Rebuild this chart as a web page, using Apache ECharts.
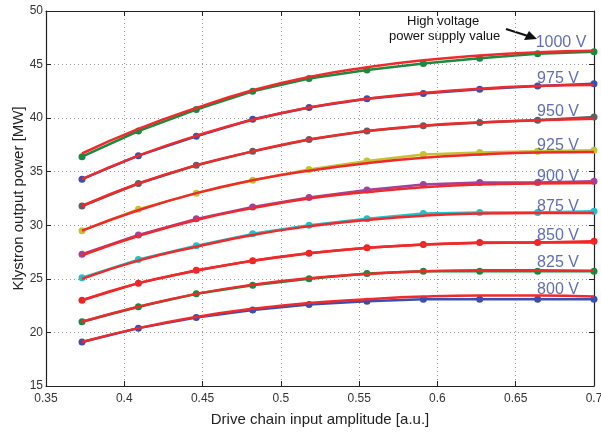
<!DOCTYPE html>
<html>
<head>
<meta charset="utf-8">
<script src="https://cdn.jsdelivr.net/npm/echarts@6/dist/echarts.min.js"></script>
<style>
html, body { margin: 0; padding: 0; background: #fff; }
#chart { width: 601px; height: 432px; }
</style>
</head>
<body>
<div id="chart"></div>
<script>
// drive amplitude sample points
var xs = [0.373, 0.409, 0.446, 0.482, 0.518, 0.555, 0.591, 0.627, 0.664, 0.7];
var voltages = ['800 V', '825 V', '850 V', '875 V', '900 V', '925 V', '950 V', '975 V', '1000 V'];

// measured points
var m800  = [19.1, 20.4, 21.4, 22.1, 22.6, 22.9, 23.1, 23.1, 23.1, 23.1];
var m825  = [21.0, 22.4, 23.6, 24.4, 25.0, 25.5, 25.7, 25.7, 25.7, 25.7];
var m850  = [23.0, 24.6, 25.8, 26.7, 27.4, 27.9, 28.2, 28.4, 28.4, 28.5];
var m875  = [25.1, 26.8, 28.1, 29.2, 30.0, 30.6, 31.1, 31.2, 31.2, 31.3];
var m900  = [27.3, 29.1, 30.6, 31.7, 32.6, 33.3, 33.8, 34.0, 34.0, 34.1];
var m925  = [29.5, 31.5, 33.0, 34.2, 35.2, 36.0, 36.6, 36.8, 36.9, 37.0];
var m950  = [31.8, 33.9, 35.6, 36.9, 38.0, 38.8, 39.3, 39.6, 39.8, 40.1];
var m975  = [34.3, 36.5, 38.3, 39.9, 41.0, 41.8, 42.3, 42.7, 43.0, 43.2];
var m1000 = [36.4, 38.8, 40.8, 42.5, 43.7, 44.5, 45.1, 45.6, 46.0, 46.2];

// fitted curves (red)
var f800  = [19.1, 20.4, 21.45, 22.2, 22.75, 23.1, 23.35, 23.45, 23.45, 23.35];
var f825  = [21.0, 22.4, 23.6, 24.45, 25.05, 25.45, 25.7, 25.8, 25.8, 25.75];
var f850  = [23.0, 24.6, 25.75, 26.7, 27.4, 27.9, 28.2, 28.35, 28.4, 28.4];
var f875  = [25.0, 26.7, 28.0, 29.1, 29.9, 30.5, 30.9, 31.1, 31.15, 31.15];
var f900  = [27.2, 29.0, 30.5, 31.6, 32.5, 33.1, 33.55, 33.8, 33.9, 33.95];
var f925  = [29.5, 31.4, 33.0, 34.2, 35.1, 35.8, 36.3, 36.6, 36.8, 36.85];
var f950  = [31.8, 33.9, 35.6, 36.9, 38.0, 38.8, 39.3, 39.6, 39.8, 39.95];
var f975  = [34.3, 36.5, 38.35, 39.85, 41.0, 41.8, 42.35, 42.75, 43.0, 43.1];
var f1000 = [36.7, 39.0, 40.95, 42.6, 43.85, 44.75, 45.4, 45.85, 46.15, 46.3];

var measured = [m800, m825, m850, m875, m900, m925, m950, m975, m1000];
var fits = [f800, f825, f850, f875, f900, f925, f950, f975, f1000];
var colors = ['#3a4fb0', '#1b8a3e', '#ee2222', '#22c0c8', '#a0429e', '#c4c232', '#606060', '#3a4fb0', '#1b8a3e'];
var labelOffsets = [[-36, -10], [-36, -9], [-36, -6], [-36, -5], [-36, -5], [-36, -5], [-36, -5], [-36, -5], [-33, -9]];

var font = '"Liberation Sans", Arial, sans-serif';

function pairs(ys) {
    return ys.map(function (y, i) { return [xs[i], y]; });
}

var series = [];
measured.forEach(function (ys, i) {
    series.push({
        name: voltages[i],
        type: 'line',
        data: pairs(ys),
        symbol: 'circle',
        symbolSize: 7,
        itemStyle: { color: colors[i] },
        lineStyle: { color: colors[i], width: 2.5 },
        z: 2,
        silent: true
    });
});
fits.forEach(function (ys, i) {
    series.push({
        name: voltages[i] + ' fit',
        type: 'line',
        data: pairs(ys),
        smooth: true,
        showSymbol: false,
        lineStyle: { color: '#f02a2a', width: 2.5 },
        z: 3,
        silent: true
    });
});
// voltage labels at the right end of each curve
series.push({
    type: 'scatter',
    symbolSize: 0,
    z: 5,
    silent: true,
    data: measured.map(function (ys, i) {
        return {
            value: [xs[xs.length - 1], ys[ys.length - 1]],
            label: {
                show: true,
                formatter: voltages[i],
                position: 'inside',
                offset: labelOffsets[i],
                color: '#3a4aa4',
                fontSize: 16,
                fontFamily: font
            }
        };
    })
});

var option = {
    backgroundColor: '#fff',
    animation: false,
    grid: { left: 46, right: 7, top: 11, bottom: 46, outerBoundsMode: 'none', containLabel: false },
    xAxis: [{
        type: 'value',
        min: 0.35, max: 0.7, interval: 0.05,
        name: 'Drive chain input amplitude [a.u.]',
        nameLocation: 'middle', nameGap: 26, nameMoveOverlap: false,
        nameTextStyle: { color: '#222', fontSize: 15, fontFamily: font },
        axisLine: { show: true, lineStyle: { color: '#222', width: 1.2 } },
        axisTick: { show: true, inside: true, length: 5, lineStyle: { color: '#222' } },
        axisLabel: { color: '#333', fontSize: 12, fontFamily: font, margin: 7,
            formatter: function (v) { return String(+v.toFixed(2)); } },
        splitLine: { show: true, lineStyle: { color: '#999', type: [1, 3], width: 1 } }
    }, {
        type: 'value', position: 'top',
        min: 0.35, max: 0.7, interval: 0.05,
        axisLine: { show: true, lineStyle: { color: '#222', width: 1.2 } },
        axisTick: { show: true, inside: true, length: 5, lineStyle: { color: '#222' } },
        axisLabel: { show: false },
        splitLine: { show: false }
    }],
    yAxis: [{
        type: 'value',
        min: 15, max: 50, interval: 5,
        name: 'Klystron output power [MW]',
        nameLocation: 'middle', nameGap: 20, nameMoveOverlap: false,
        nameTextStyle: { color: '#222', fontSize: 15, fontFamily: font },
        axisLine: { show: true, lineStyle: { color: '#222', width: 1.2 } },
        axisTick: { show: true, inside: true, length: 5, lineStyle: { color: '#222' } },
        axisLabel: { color: '#333', fontSize: 12, fontFamily: font, margin: 3 },
        splitLine: { show: true, lineStyle: { color: '#999', type: [1, 3], width: 1 } }
    }, {
        type: 'value', position: 'right',
        min: 15, max: 50, interval: 5,
        axisLine: { show: true, lineStyle: { color: '#222', width: 1.2 } },
        axisTick: { show: true, inside: true, length: 5, lineStyle: { color: '#222' } },
        axisLabel: { show: false },
        splitLine: { show: false }
    }],
    graphic: [
        { type: 'text', left: 407, top: 15,
          style: { text: 'High voltage', fill: '#111', font: '13px ' + font } },
        { type: 'text', left: 389, top: 30,
          style: { text: 'power supply value', fill: '#111', font: '13px ' + font } },
        { type: 'line', shape: { x1: 506, y1: 29, x2: 528, y2: 36 },
          style: { stroke: '#111', lineWidth: 2 } },
        { type: 'polygon', shape: { points: [[537, 39], [524, 40], [529, 31]] },
          style: { fill: '#111' } }
    ],
    series: series
};

echarts.init(document.getElementById('chart')).setOption(option);
</script>
</body>
</html>
